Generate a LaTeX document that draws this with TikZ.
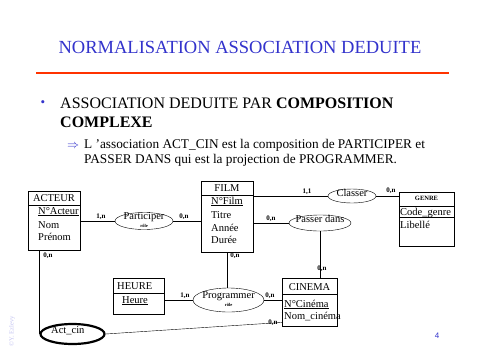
\documentclass[tikz,border=0pt]{standalone}
\usepackage{fontspec}
\setmainfont{Liberation Serif}
\newfontfamily\sansfont{Liberation Sans}
\usetikzlibrary{shapes.geometric}
\definecolor{titrebleu}{HTML}{3333CC}
\definecolor{filet}{HTML}{FF3300}
\definecolor{copyr}{HTML}{C4C4F2}

\begin{document}
\begin{tikzpicture}[x=1pt,y=-1pt,
  entite/.style={draw, anchor=north west, inner sep=0pt},
  assoc/.style={draw, ellipse, inner sep=0pt},
  txt/.style={anchor=base west, inner sep=0pt, font=\fontsize{10.5}{12}\selectfont},
  entete/.style={txt, anchor=base},
  card/.style={anchor=base, inner sep=0pt, font=\fontsize{7}{8}\selectfont\bfseries},
  role/.style={anchor=base, inner sep=0pt, font=\fontsize{4.5}{5}\selectfont\bfseries}]
  \useasboundingbox[fill=white] (0,0) rectangle (480,360);

  % titre et texte
  \node[anchor=base, inner sep=0pt, text=titrebleu, font=\fontsize{18.5}{22}\selectfont] (titre) at (240,53) {NORMALISATION ASSOCIATION DEDUITE};
  \draw[filet, line width=2pt] (36,72.5) -- (449,72.5);
  \node[anchor=base, inner sep=0pt, text=titrebleu, font=\fontsize{13}{14}\selectfont] (puce) at (43,106.5) {\textbullet};
  \node[anchor=base west, inner sep=0pt, align=left, font=\fontsize{16}{19}\selectfont] (point) at (60,127)
    {ASSOCIATION DEDUITE PAR \textbf{COMPOSITION}\\\textbf{COMPLEXE}};
  \node[anchor=base west, inner sep=0pt, text=titrebleu, font=\fontsize{12}{14}\selectfont] (fleche) at (67,148) {$\Rightarrow$};
  \node[anchor=base west, inner sep=0pt, align=left, font=\fontsize{13.3}{15}\selectfont] (detail) at (84,163)
    {L ’association ACT\_CIN est la composition de PARTICIPER et\\PASSER DANS qui est la projection de PROGRAMMER.};

  % entites
  \node[entite, minimum width=52pt, minimum height=59pt] (acteur) at (28,191) {};
  \draw ([yshift=-14pt]acteur.north west) -- ([yshift=-14pt]acteur.north east);
  \node[entete] (tActeur) at (54,201) {ACTEUR};
  \node[txt] (aNumActeur) at (38,214) {\underline{N°Acteur}};
  \node[txt] (aNom) at (38,228) {Nom};
  \node[txt] (aPrenom) at (38,240) {Prénom};

  \node[entite, minimum width=52pt, minimum height=71pt] (film) at (201,181) {};
  \draw ([yshift=-14pt]film.north west) -- ([yshift=-14pt]film.north east);
  \node[entete] (tFilm) at (227,191) {FILM};
  \node[txt] (aNumFilm) at (211,204) {\underline{N°Film}};
  \node[txt] (aTitre) at (211,218) {Titre};
  \node[txt] (aAnnee) at (211,231) {Année};
  \node[txt] (aDuree) at (211,243) {Durée};

  \node[entite, minimum width=55pt, minimum height=54pt] (genre) at (399,192) {};
  \draw ([yshift=-14pt]genre.north west) -- ([yshift=-14pt]genre.north east);
  \draw ([yshift=-25pt]genre.north west) -- ([yshift=-25pt]genre.north east);
  \node[entete, font=\fontsize{6.5}{8}\selectfont\bfseries] (tGenre) at (426.5,200) {GENRE};
  \node[txt] (aCodeGenre) at (400,215) {Code\_genre};
  \node[txt] (aLibelle) at (400,228) {Libellé};

  \node[entite, minimum width=55pt, minimum height=48pt] (cinema) at (282,278) {};
  \draw ([yshift=-16pt]cinema.north west) -- ([yshift=-16pt]cinema.north east);
  \node[entete] (tCinema) at (309.5,290) {CINEMA};
  \node[txt] (aNumCinema) at (284,307) {\underline{N°Cinéma}};
  \node[txt] (aNomCinema) at (284,319) {Nom\_cinéma};

  \node[entite, minimum width=51pt, minimum height=36pt] (heure) at (113,278) {};
  \draw ([yshift=-15pt]heure.north west) -- ([yshift=-15pt]heure.north east);
  \node[txt] (tHeure) at (117,289) {HEURE};
  \node[txt] (aHeure) at (122,303) {\underline{Heure}};

  % associations
  \node[assoc, minimum width=58pt, minimum height=17pt] (participer) at (144,221) {};
  \node[entete] (tParticiper) at (144,219) {Participer};
  \node[role] (rParticiper) at (144,227) {rôle};
  \node[assoc, minimum width=48pt, minimum height=14pt] (classer) at (352,196) {};
  \node[entete] (tClasser) at (352,196) {Classer};
  \node[assoc, minimum width=62pt, minimum height=16pt] (passer) at (320,223) {};
  \node[entete] (tPasser) at (320,222) {Passer dans};
  \node[assoc, minimum width=71pt, minimum height=24pt] (programmer) at (228.5,300) {};
  \node[entete] (tProgrammer) at (228.5,298) {Programmer};
  \node[role] (rProgrammer) at (228.5,306) {rôle};
  \node[assoc, line width=2.2pt, minimum width=64pt, minimum height=20pt] (actcin) at (72.5,334) {};
  \node[txt] (tActcin) at (51,333) {Act\_cin};

  % pattes
  \draw (acteur.east |- participer) -- (participer.west);
  \draw (participer.east) -- (film.west |- participer);
  \draw (film.east |- classer) -- (classer.west);
  \draw (classer.east) -- (genre.west |- classer);
  \draw (film.east |- passer) -- (passer.west);
  \draw (passer.south) -- (passer.south |- cinema.north);
  \draw (film.south) -- (film.south |- programmer.north);
  \draw (heure.east |- programmer) -- (programmer.west);
  \draw (programmer.east) -- (cinema.west |- programmer);
  \draw (actcin.west |- acteur.south) -- (actcin.west);
  \draw (actcin.east) -- ([yshift=4pt]cinema.south west);

  % cardinalites
  \node[card] (c1) at (101,218) {1,n};
  \node[card] (c2) at (184,218) {0,n};
  \node[card] (c3) at (307,193) {1,1};
  \node[card] (c4) at (391,192) {0,n};
  \node[card] (c5) at (271,220) {0,n};
  \node[card] (c6) at (48,257) {0,n};
  \node[card] (c7) at (235,257) {0,n};
  \node[card] (c8) at (322,270) {0,n};
  \node[card] (c9) at (185,297) {1,n};
  \node[card] (c10) at (270,297) {0,n};
  \node[card] (c11) at (273,324) {0,n};

  % pied de page
  \node[inner sep=0pt, text=titrebleu, font=\sansfont\fontsize{8}{9}\selectfont] (page) at (437,336) {4};
  \node[inner sep=0pt, rotate=90, text=copyr, font=\fontsize{6.5}{8}\selectfont] (copyright) at (12,331) {©Y. Ezlevy};
\end{tikzpicture}
\end{document}
